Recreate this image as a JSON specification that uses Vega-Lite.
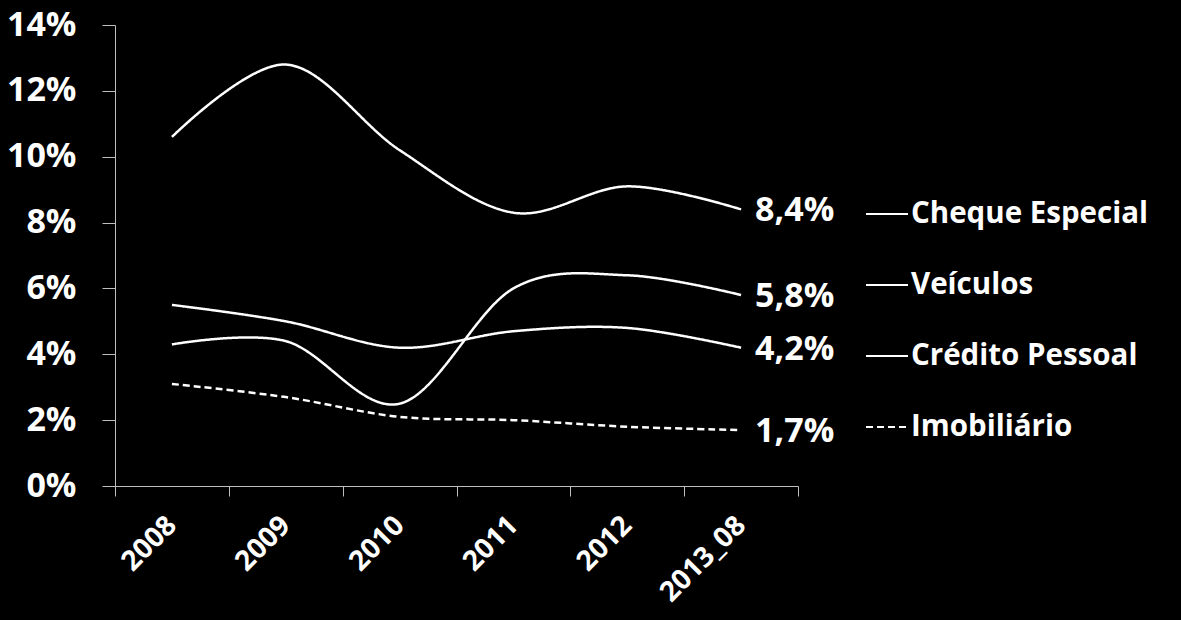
{
  "$schema": "https://vega.github.io/schema/vega-lite/v6.json",
  "autosize": "none",
  "width": 683,
  "height": 461,
  "padding": {"left": 115, "top": 25, "right": 383, "bottom": 134},
  "background": "black",
  "config": {
    "view": {"stroke": null},
    "font": "Open Sans",
    "locale": {"number": {"decimal": ",", "thousands": ".", "grouping": [3], "currency": ["R$", ""]}}
  },
  "data": {
    "values": [
      {"periodo": "2008", "serie": "Cheque Especial", "taxa": 0.106},
      {"periodo": "2009", "serie": "Cheque Especial", "taxa": 0.128},
      {"periodo": "2010", "serie": "Cheque Especial", "taxa": 0.102},
      {"periodo": "2011", "serie": "Cheque Especial", "taxa": 0.083},
      {"periodo": "2012", "serie": "Cheque Especial", "taxa": 0.091},
      {"periodo": "2013_08", "serie": "Cheque Especial", "taxa": 0.084},
      {"periodo": "2008", "serie": "Veículos", "taxa": 0.043},
      {"periodo": "2009", "serie": "Veículos", "taxa": 0.044},
      {"periodo": "2010", "serie": "Veículos", "taxa": 0.025},
      {"periodo": "2011", "serie": "Veículos", "taxa": 0.060},
      {"periodo": "2012", "serie": "Veículos", "taxa": 0.064},
      {"periodo": "2013_08", "serie": "Veículos", "taxa": 0.058},
      {"periodo": "2008", "serie": "Crédito Pessoal", "taxa": 0.055},
      {"periodo": "2009", "serie": "Crédito Pessoal", "taxa": 0.050},
      {"periodo": "2010", "serie": "Crédito Pessoal", "taxa": 0.042},
      {"periodo": "2011", "serie": "Crédito Pessoal", "taxa": 0.047},
      {"periodo": "2012", "serie": "Crédito Pessoal", "taxa": 0.048},
      {"periodo": "2013_08", "serie": "Crédito Pessoal", "taxa": 0.042},
      {"periodo": "2008", "serie": "Imobiliário", "taxa": 0.031},
      {"periodo": "2009", "serie": "Imobiliário", "taxa": 0.027},
      {"periodo": "2010", "serie": "Imobiliário", "taxa": 0.021},
      {"periodo": "2011", "serie": "Imobiliário", "taxa": 0.020},
      {"periodo": "2012", "serie": "Imobiliário", "taxa": 0.018},
      {"periodo": "2013_08", "serie": "Imobiliário", "taxa": 0.017}
    ]
  },
  "encoding": {
    "x": {
      "field": "periodo",
      "type": "ordinal",
      "sort": null,
      "scale": {"type": "band", "paddingInner": 0, "paddingOuter": 0},
      "axis": {
        "title": null,
        "labelAngle": -45,
        "labelAlign": "right",
        "labelBaseline": "middle",
        "labelFontSize": 28,
        "labelFontWeight": "bold",
        "labelColor": "white",
        "labelPadding": 25,
        "tickBand": "extent",
        "tickSize": 10,
        "tickColor": "#bfbfbf",
        "domainColor": "#bfbfbf",
        "grid": false
      }
    },
    "y": {
      "field": "taxa",
      "type": "quantitative",
      "scale": {"domain": [0, 0.14]},
      "axis": {
        "title": null,
        "values": [0, 0.02, 0.04, 0.06, 0.08, 0.10, 0.12, 0.14],
        "format": ".0%",
        "labelFontSize": 34,
        "labelFontWeight": "bold",
        "labelColor": "white",
        "labelPadding": 26,
        "tickSize": 13,
        "tickColor": "#bfbfbf",
        "domainColor": "#bfbfbf",
        "grid": false
      }
    }
  },
  "layer": [
    {
      "mark": {"type": "line", "interpolate": "cardinal", "color": "white", "strokeWidth": 2.5},
      "encoding": {
        "detail": {"field": "serie"},
        "strokeDash": {
          "field": "serie",
          "type": "nominal",
          "scale": {
            "domain": ["Cheque Especial", "Veículos", "Crédito Pessoal", "Imobiliário"],
            "range": [[1, 0], [1, 0], [1, 0], [7, 4]]
          },
          "legend": {
            "title": null,
            "orient": "none",
            "legendX": 750,
            "legendY": 167,
            "padding": 0,
            "symbolType": "stroke",
            "symbolSize": 1764,
            "symbolStrokeColor": "white",
            "symbolStrokeWidth": 2,
            "labelFontSize": 29.5,
            "labelFontWeight": "bold",
            "labelColor": "white",
            "labelOffset": 2,
            "labelLimit": 400,
            "rowPadding": 34
          }
        }
      }
    },
    {
      "transform": [{"filter": "datum.periodo == '2013_08'"}],
      "mark": {"type": "text", "align": "left", "baseline": "middle", "dx": 14, "dy": 2, "fontSize": 34, "fontWeight": "bold", "color": "white"},
      "encoding": {
        "text": {"field": "taxa", "type": "quantitative", "format": ".1%"}
      }
    }
  ]
}
